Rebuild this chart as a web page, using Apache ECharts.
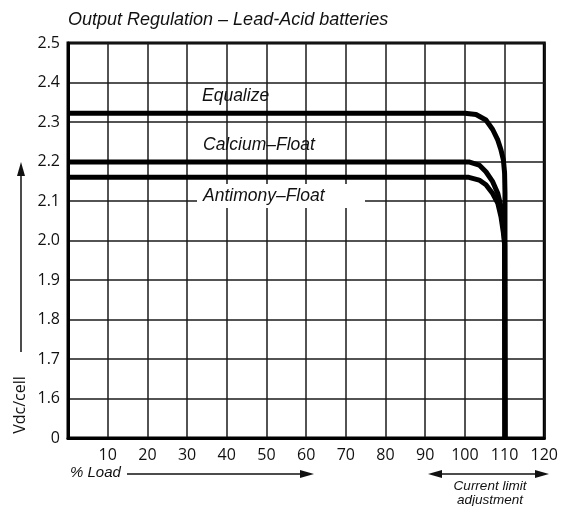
<!DOCTYPE html>
<html><head><meta charset="utf-8">
<script src="https://cdn.jsdelivr.net/npm/echarts@6/dist/echarts.min.js"></script>
<style>html,body{margin:0;padding:0;background:#fff}#c{width:561px;height:506px}</style>
</head><body><div id="c"></div>
<script>
var xTicks = [0,10,20,30,40,50,60,70,80,90,100,110,120];
var yTicks = [1.5,1.6,1.7,1.8,1.9,2.0,2.1,2.2,2.3,2.4,2.5];
var equalize = [[0,2.322],[100,2.322],[102.8,2.319],[105.3,2.305],[107,2.281],[108.3,2.254],[109.1,2.229],[109.7,2.204],[110,2.171],[110.1,2.12],[110.1,2.0],[110.1,1.5]];
var calciumFloat = [[0,2.199],[101,2.199],[103.6,2.191],[105.3,2.174],[107,2.149],[108.3,2.119],[109.1,2.086],[109.7,2.044],[110,2.0],[110.1,1.5]];
var antimonyFloat = [[0,2.160],[101,2.160],[103.6,2.153],[105.3,2.141],[107,2.119],[108.3,2.094],[109.1,2.060],[109.7,2.019],[110,1.99],[110.1,1.5]];

var chart = echarts.init(document.getElementById('c'), null, {renderer:'canvas'});
var lab = "'Liberation Sans', Arial, sans-serif";
var num = "'Open Sans', sans-serif";
function mk(data){return {type:'line',data:data,symbol:'none',smooth:false,lineStyle:{color:'#000',width:5,cap:'butt',join:'round'},z:3,animation:false};}
chart.setOption({
  animation:false,
  grid:{left:68,right:16,top:43,bottom:68,show:true,borderColor:'#000',borderWidth:3,backgroundColor:'#fff'},
  xAxis:{type:'value',min:0,max:120,interval:10,
    axisLine:{show:true,lineStyle:{color:'#000',width:3}},axisTick:{show:false},
    axisLabel:{fontFamily:num,fontSize:16,color:'#111',margin:9,formatter:function(v){return v===0?'':String(v);}},
    splitLine:{show:true,lineStyle:{color:'#1a1a1a',width:1.5}}},
  yAxis:{type:'value',min:1.5,max:2.5,interval:0.1,
    axisLine:{show:true,lineStyle:{color:'#000',width:3}},axisTick:{show:false},
    axisLabel:{fontFamily:num,fontSize:16,color:'#111',margin:8,formatter:function(v){return Math.abs(v-1.5)<1e-6?'0':v.toFixed(1);}},
    splitLine:{show:true,lineStyle:{color:'#1a1a1a',width:1.5}}},
  series:[mk(equalize),mk(calciumFloat),mk(antimonyFloat)],
  graphic:[
    {type:'text',left:68,top:11,style:{text:'Output Regulation \u2013 Lead-Acid batteries',font:'italic 18px '+lab,fill:'#111'}},
    {type:'rect',shape:{x:197,y:184,width:168,height:24},style:{fill:'#fff'},z:10},
    {type:'text',x:202,y:96.5,style:{text:'Equalize',font:'italic 17.5px '+lab,fill:'#111',verticalAlign:'middle'},z:11},
    {type:'text',x:203,y:145.5,style:{text:'Calcium\u2013Float',font:'italic 17.5px '+lab,fill:'#111',verticalAlign:'middle'},z:11},
    {type:'text',x:203,y:196.5,style:{text:'Antimony\u2013Float',font:'italic 17.5px '+lab,fill:'#111',verticalAlign:'middle'},z:11},
    {type:'text',x:20,y:405,rotation:Math.PI/2,style:{text:'Vdc/cell',font:'16px '+num,fill:'#111',align:'center',verticalAlign:'middle'},z:11},
    {type:'line',shape:{x1:21,y1:352,x2:21,y2:172},style:{stroke:'#111',lineWidth:1.5},z:11},
    {type:'polygon',shape:{points:[[21,162],[17,176],[25,176]]},style:{fill:'#111'},z:11},
    {type:'text',x:70,y:473,style:{text:'% Load',font:'italic 15px '+lab,fill:'#111',verticalAlign:'middle'},z:11},
    {type:'line',shape:{x1:127,y1:474,x2:303,y2:474},style:{stroke:'#111',lineWidth:1.5},z:11},
    {type:'polygon',shape:{points:[[314,474],[300,470],[300,478]]},style:{fill:'#111'},z:11},
    {type:'line',shape:{x1:436,y1:474,x2:540,y2:474},style:{stroke:'#111',lineWidth:1.5},z:11},
    {type:'polygon',shape:{points:[[428,474],[442,470],[442,478]]},style:{fill:'#111'},z:11},
    {type:'polygon',shape:{points:[[549,474],[535,470],[535,478]]},style:{fill:'#111'},z:11},
    {type:'text',x:490,y:486,style:{text:'Current limit',font:'italic 13.5px '+lab,fill:'#111',align:'center',verticalAlign:'middle'},z:11},
    {type:'text',x:490,y:500,style:{text:'adjustment',font:'italic 13.5px '+lab,fill:'#111',align:'center',verticalAlign:'middle'},z:11}
  ]
});
</script></body></html>
